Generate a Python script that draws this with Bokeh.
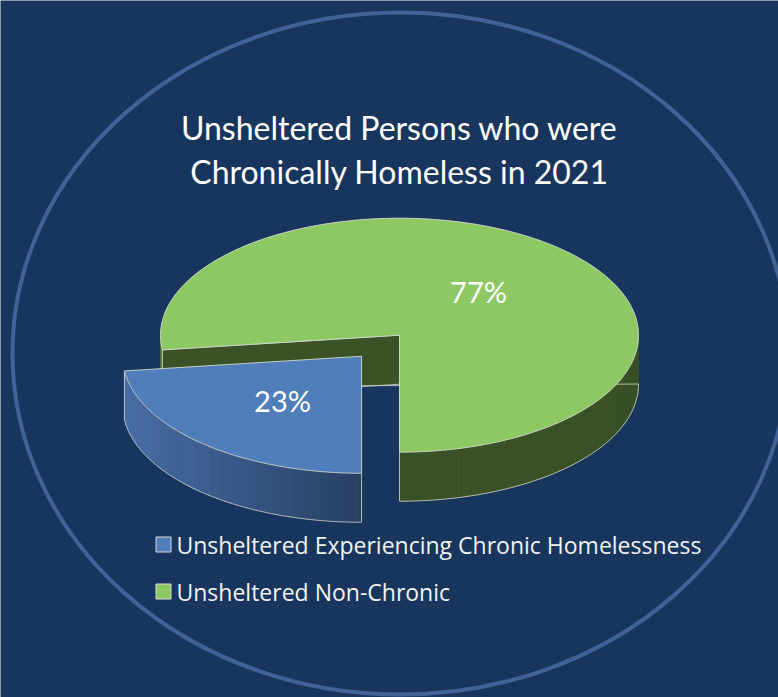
import numpy as np
from bokeh.plotting import figure
from bokeh.models import Range1d
from bokeh.core.properties import value
from bokeh.embed import file_html
from bokeh.resources import INLINE

# ---------------- data ----------------
categories = ["Unsheltered Experiencing Chronic Homelessness", "Unsheltered Non-Chronic"]
shares = [23, 77]
labels = ["23%", "77%"]
title_lines = ["Unsheltered Persons who were", "Chronically Homeless in 2021"]

# ---------------- styles / layout ----------------
W, H = 778, 697
BG = "#18365d"
RING = "#3f6397"
top_colors = ["#4f7ebb", "#8dc963"]
wall_light = ["#4b70a8", "#55703c"]
wall_dark = ["#2b4266", "#3b5226"]
wall_k = [1.0, 7.0]
face_colors = ["#2f4a72", "#3b5226"]
EDGE = "#d3dacd"
explode = [0.24, 0.0]
FONT = "Lato"
LEG_FONT = "Open Sans"

CX, CY = 399.0, 334.7     # pie centre (pixels)
RX, RY = 239.0, 117.0     # pie ellipse radii
DEPTH = 49.0

p = figure(width=W, height=H, x_range=Range1d(0, W), y_range=Range1d(H, 0),
           output_backend="svg", toolbar_location=None, min_border=0)
p.axis.visible = False
p.grid.visible = False
p.outline_line_color = None
p.background_fill_color = BG
p.border_fill_color = BG

# background ring
p.ellipse(x=400, y=353, width=776, height=682, fill_color=None,
          line_color=RING, line_width=4)


def hex2rgb(h):
    h = h.lstrip("#")
    return np.array([int(h[i:i + 2], 16) for i in (0, 2, 4)], float)


def mix(c1, c2, f):
    c = hex2rgb(c1) * (1 - f) + hex2rgb(c2) * f
    return "#%02x%02x%02x" % tuple(int(round(v)) for v in c)


def pt(cx, cy, t):
    r = np.radians(t)
    return cx + RX * np.cos(r), cy - RY * np.sin(r)


# slice angles from the values
total = float(sum(shares))
start = 270.0
geo = []
for i, s in enumerate(shares):
    sweep = s / total * 360.0
    a0, a1 = start, start - sweep
    start = a1
    mid = np.radians((a0 + a1) / 2)
    ox = explode[i] * RX * np.cos(mid)
    oy = -explode[i] * RY * np.sin(mid)
    geo.append((a0, a1, CX + ox, CY + oy, mid))

draw_order = [1, 0]
for i in draw_order:
    a0, a1, cx, cy, mid = geo[i]
    # radial faces
    for a, normal in ((a0, a0 + 90), (a1, a1 - 90)):
        if np.sin(np.radians(normal)) < -1e-6:
            ex, ey = pt(cx, cy, a)
            xs = [cx, ex, ex, cx]
            ys = [cy, ey, ey + DEPTH, cy + DEPTH]
            p.patch(xs, ys, fill_color=face_colors[i], line_color=EDGE,
                    line_width=1, line_alpha=0.8)
    # outer wall
    ts = np.linspace(a1, a0, 241)
    strips = []
    for j in range(len(ts) - 1):
        tm = (ts[j] + ts[j + 1]) / 2
        if np.sin(np.radians(tm)) < 0:
            strips.append((ts[j], ts[j + 1]))
    if strips:
        xs_all = [pt(cx, cy, t)[0] for st in strips for t in st]
        xmin, xmax = min(xs_all), max(xs_all)
        sx, sy, cols = [], [], []
        for (t1, t2) in strips:
            x1, y1 = pt(cx, cy, t1)
            x2, y2 = pt(cx, cy, t2)
            sx.append([x1, x2, x2, x1])
            sy.append([y1, y2, y2 + DEPTH, y1 + DEPTH])
            f = ((x1 + x2) / 2 - xmin) / max(xmax - xmin, 1)
            cols.append(mix(wall_light[i], wall_dark[i], min(1.0, f * wall_k[i])))
        p.patches(sx, sy, fill_color=cols, line_color=cols, line_width=0.6)
        # bottom rim and end edges
        tv = [strips[0][0]] + [st[1] for st in strips]
        bx = [pt(cx, cy, t)[0] for t in tv]
        by = [pt(cx, cy, t)[1] + DEPTH for t in tv]
        p.line(bx, by, line_color=EDGE, line_width=1, line_alpha=0.8)
        for t in (tv[0], tv[-1]):
            x, y = pt(cx, cy, t)
            p.line([x, x], [y, y + DEPTH], line_color=EDGE, line_width=1, line_alpha=0.8)
    # top surface
    tt = np.linspace(a1, a0, 241)
    tx = [cx] + [pt(cx, cy, t)[0] for t in tt]
    ty = [cy] + [pt(cx, cy, t)[1] for t in tt]
    p.patch(tx, ty, fill_color=top_colors[i], line_color=EDGE, line_width=1,
            line_alpha=0.9)

# percentage labels at half radius along mid-angle
lx = [geo[i][2] + 0.5 * RX * np.cos(geo[i][4]) for i in range(len(shares))]
ly = [geo[i][3] - 0.5 * RY * np.sin(geo[i][4]) for i in range(len(shares))]
p.text(x=lx, y=ly, text=labels, text_color="white", text_align="center",
       text_baseline="middle", text_font=value(FONT), text_font_size="29px")

# title
p.text(x=[399, 399], y=[127, 171], text=title_lines, text_color="white",
       text_align="center", text_baseline="alphabetic", text_font=value(FONT),
       text_font_size="32px")

# legend
leg_y = [544 + 47 * k for k in range(len(categories))]
p.rect(x=[163] * len(categories), y=leg_y, width=15, height=15,
       fill_color=top_colors, line_color="#d9d9d9", line_width=1)
p.text(x=[176] * len(categories), y=leg_y, text=categories, text_color="#f2f2f2",
       text_align="left", text_baseline="middle", text_font=value(LEG_FONT),
       text_font_size="23px")

open("out.html", "w").write(file_html(p, INLINE))
